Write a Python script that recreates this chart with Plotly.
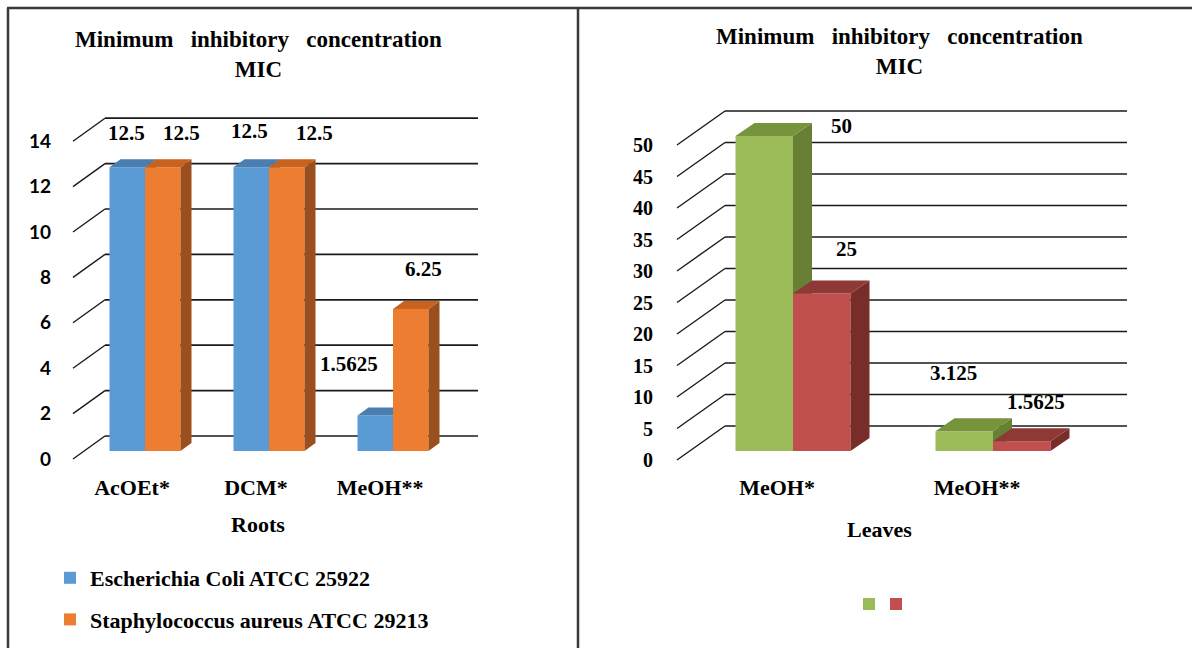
import plotly.graph_objects as go

# ---------------- data ----------------
root_extracts = ["AcOEt*", "DCM*", "MeOH**"]
root_ecoli = [12.5, 12.5, 1.5625]
root_saureus = [12.5, 12.5, 6.25]
root_ticks = [0, 2, 4, 6, 8, 10, 12, 14]

leaf_extracts = ["MeOH*", "MeOH**"]
leaf_green = [50, 3.125]
leaf_red = [25, 1.5625]
leaf_ticks = [0, 5, 10, 15, 20, 25, 30, 35, 40, 45, 50]

ecoli_name = "Escherichia Coli ATCC 25922"
saureus_name = "Staphylococcus aureus ATCC 29213"

# ---------------- page geometry (pixels) ----------------
W, H = 1192, 648
SERIF = "Liberation Serif"


def px(p):
    return p / W


def py(p):
    return 1 - p / H


# per-panel pseudo-3D geometry, in pixels
left_geo = dict(cat0=145, step=124, base=451, unit=22.7,
                dom_x=(58, 492), dom_y=(472, 95),
                bar_w=35.5, depth=(11, 8),
                back_up=15, front_down=8, diag_x=73, back_x=(105, 478))
right_geo = dict(cat0=793, step=200, base=451, unit=6.3,
                 dom_x=(660, 1150), dom_y=(472, 95),
                 bar_w=57.5, depth=(19, 13),
                 back_up=25, front_down=9, diag_x=677, back_x=(725, 1127))


def to_ux(g, p):
    return (p - g["cat0"]) / g["step"]


def axis_ranges(g):
    xr = [to_ux(g, g["dom_x"][0]), to_ux(g, g["dom_x"][1])]
    yr = [(g["base"] - g["dom_y"][0]) / g["unit"], (g["base"] - g["dom_y"][1]) / g["unit"]]
    return xr, yr


def faces(xs, vals, w, ddx, ddy):
    """Top and side parallelograms of each column."""
    tx, ty, sx, sy = [], [], [], []
    for x, v in zip(xs, vals):
        xl, xr = x - w / 2, x + w / 2
        tx += [xl, xl + ddx, xr + ddx, xr, xl, None]
        ty += [v, v + ddy, v + ddy, v, v, None]
        sx += [xr, xr + ddx, xr + ddx, xr, xr, None]
        sy += [0, ddy, v + ddy, v, 0, None]
    return tx, ty, sx, sy


fig = go.Figure()


def add_series(g, vals, xa, ya, front, top, side, name, first, in_legend):
    w = g["bar_w"] / g["step"]
    ddx = g["depth"][0] / g["step"]
    ddy = g["depth"][1] / g["unit"]
    xs = [i + (-w / 2 if first else w / 2) for i in range(len(vals))]
    fig.add_trace(go.Bar(x=xs, y=vals, width=w, name=name, legendgroup=name or front,
                         showlegend=in_legend,
                         marker=dict(color=front, line=dict(width=0)),
                         xaxis=xa, yaxis=ya, hoverinfo="y"))
    tx, ty, sx, sy = faces(xs, vals, w, ddx, ddy)
    for fx, fy, col in ((sx, sy, side), (tx, ty, top)):
        fig.add_trace(go.Scatter(x=fx, y=fy, mode="lines", fill="toself",
                                 fillcolor=col, line=dict(width=0, color=col),
                                 showlegend=False, hoverinfo="skip",
                                 xaxis=xa, yaxis=ya))
    return xs


GREEN, RED = "#9BBB59", "#C0504D"

# roots panel: E. coli on base axes, S. aureus on overlaid axes
xs_ec = add_series(left_geo, root_ecoli, "x", "y", "#5B9BD5", "#4A7EB0", "#3E6A96",
                   ecoli_name, True, True)
xs_sa = add_series(left_geo, root_saureus, "x2", "y2", "#ED7D31", "#C8631F", "#9C4F1E",
                   saureus_name, False, True)
# leaves panel
xs_g = add_series(right_geo, leaf_green, "x3", "y3", GREEN, "#77933C", "#687F36",
                  "", True, False)
xs_r = add_series(right_geo, leaf_red, "x4", "y4", RED, "#8E3936", "#782D2B",
                  "", False, False)

# ---------------- back wall grid and floor diagonals ----------------
shapes = []


def wall(g, ticks, xref, yref):
    back_dy = g["back_up"] / g["unit"]
    front_dy = g["front_down"] / g["unit"]
    bx0, bx1 = to_ux(g, g["back_x"][0]), to_ux(g, g["back_x"][1])
    dx0 = to_ux(g, g["diag_x"])
    for t in ticks:
        shapes.append(dict(type="line", xref=xref, yref=yref, layer="below",
                           x0=bx0, x1=bx1, y0=t + back_dy, y1=t + back_dy,
                           line=dict(color="#1a1a1a", width=1.7)))
        shapes.append(dict(type="line", xref=xref, yref=yref, layer="below",
                           x0=dx0, x1=bx0, y0=t - front_dy, y1=t + back_dy,
                           line=dict(color="#1a1a1a", width=1.4)))


wall(left_geo, root_ticks, "x", "y")
wall(right_geo, leaf_ticks, "x3", "y3")

# frame of the figure
frame = dict(color="#3a3a3a", width=2.5)
shapes += [
    dict(type="line", xref="paper", yref="paper", x0=px(7), x1=1, y0=py(8), y1=py(8), line=frame),
    dict(type="line", xref="paper", yref="paper", x0=px(8), x1=px(8), y0=py(8), y1=0, line=frame),
    dict(type="line", xref="paper", yref="paper", x0=px(578), x1=px(578), y0=py(8), y1=0, line=frame),
]

# key squares of the leaves panel (unnamed series)
for cx, col in ((869, GREEN), (896, RED)):
    shapes.append(dict(type="rect", xref="paper", yref="paper",
                       x0=px(cx - 6), x1=px(cx + 6), y0=py(610), y1=py(598),
                       fillcolor=col, line=dict(width=0)))

# ---------------- value labels ----------------
annotations = []
label_font = dict(family=SERIF, size=21, color="#000000", weight="bold")


def value_labels(xs, vals, xref, yref, shifts):
    for x, v, (sx, sy) in zip(xs, vals, shifts):
        annotations.append(dict(x=x, y=v, xref=xref, yref=yref, text=f"{v:g}",
                                showarrow=False, xshift=sx, yshift=sy,
                                xanchor="center", yanchor="middle", font=label_font))


value_labels(xs_ec, root_ecoli, "x", "y", [(-1, 34), (-2, 36), (-26, 52)])
value_labels(xs_sa, root_saureus, "x2", "y2", [(19, 34), (28, 34), (13, 40)])
value_labels(xs_g, leaf_green, "x3", "y3", [(77, 10), (-11, 58)])
value_labels(xs_r, leaf_red, "x4", "y4", [(25, 45), (14, 39)])

title_text = "Minimum\u00a0\u00a0 inhibitory\u00a0\u00a0 concentration<br>MIC"
title_font = dict(family=SERIF, size=23, color="#000000", weight="bold")
annotations += [
    dict(x=px(258), y=py(54), xref="paper", yref="paper", text=title_text, showarrow=False,
         xanchor="center", yanchor="middle", font=title_font),
    dict(x=px(899), y=py(51), xref="paper", yref="paper", text=title_text, showarrow=False,
         xanchor="center", yanchor="middle", font=title_font),
    dict(x=px(258), y=py(524), xref="paper", yref="paper", text="Roots", showarrow=False,
         xanchor="center", yanchor="middle", font=dict(title_font, size=22)),
    dict(x=px(879), y=py(529), xref="paper", yref="paper", text="Leaves", showarrow=False,
         xanchor="center", yanchor="middle", font=dict(title_font, size=22)),
]

# ---------------- axes ----------------
cat_font = dict(family=SERIF, size=22, color="#000000", weight="bold")
lx, ly = axis_ranges(left_geo)
rx, ry = axis_ranges(right_geo)


def xaxis(g, rng, cats, shift, **kw):
    return dict(domain=[px(g["dom_x"][0]), px(g["dom_x"][1])], range=rng,
                tickvals=list(range(len(cats))), ticktext=cats, ticks="",
                ticklabelshift=shift, ticklabelstandoff=0, tickfont=cat_font,
                showgrid=False, zeroline=False, showline=False, fixedrange=True, **kw)


def yaxis(g, rng, ticks, font, standoff, **kw):
    return dict(domain=[py(g["dom_y"][0]), py(g["dom_y"][1])], range=rng,
                tickvals=ticks, ticks="", ticklabelshift=g["front_down"],
                ticklabelstandoff=standoff, tickfont=font,
                showgrid=False, zeroline=False, showline=False, fixedrange=True, **kw)


hidden = dict(visible=False, showgrid=False, zeroline=False, fixedrange=True)

fig.update_layout(
    width=W, height=H, margin=dict(l=0, r=0, t=0, b=0),
    paper_bgcolor="#ffffff", plot_bgcolor="rgba(0,0,0,0)",
    barmode="overlay", showlegend=True,
    xaxis=xaxis(left_geo, lx, root_extracts, -13, anchor="y"),
    yaxis=yaxis(left_geo, ly, root_ticks,
                dict(family="Lato", size=19, color="#000000", weight="bold"), 6, anchor="x"),
    xaxis2=dict(hidden, overlaying="x", range=lx, anchor="y2"),
    yaxis2=dict(hidden, overlaying="y", range=ly, anchor="x2"),
    xaxis3=xaxis(right_geo, rx, leaf_extracts, -16, anchor="y3"),
    yaxis3=yaxis(right_geo, ry, leaf_ticks,
                 dict(family=SERIF, size=20, color="#000000", weight="bold"), 6, anchor="x3"),
    xaxis4=dict(hidden, overlaying="x3", range=rx, anchor="y4"),
    yaxis4=dict(hidden, overlaying="y3", range=ry, anchor="x4"),
    legend=dict(x=px(50), y=py(557), xanchor="left", yanchor="top",
                orientation="v", traceorder="grouped", tracegroupgap=10,
                font=dict(family=SERIF, size=22, color="#000000", weight="bold"),
                bgcolor="rgba(0,0,0,0)", itemclick=False, itemdoubleclick=False),
    shapes=shapes, annotations=annotations,
)

fig.write_html("out.html")
